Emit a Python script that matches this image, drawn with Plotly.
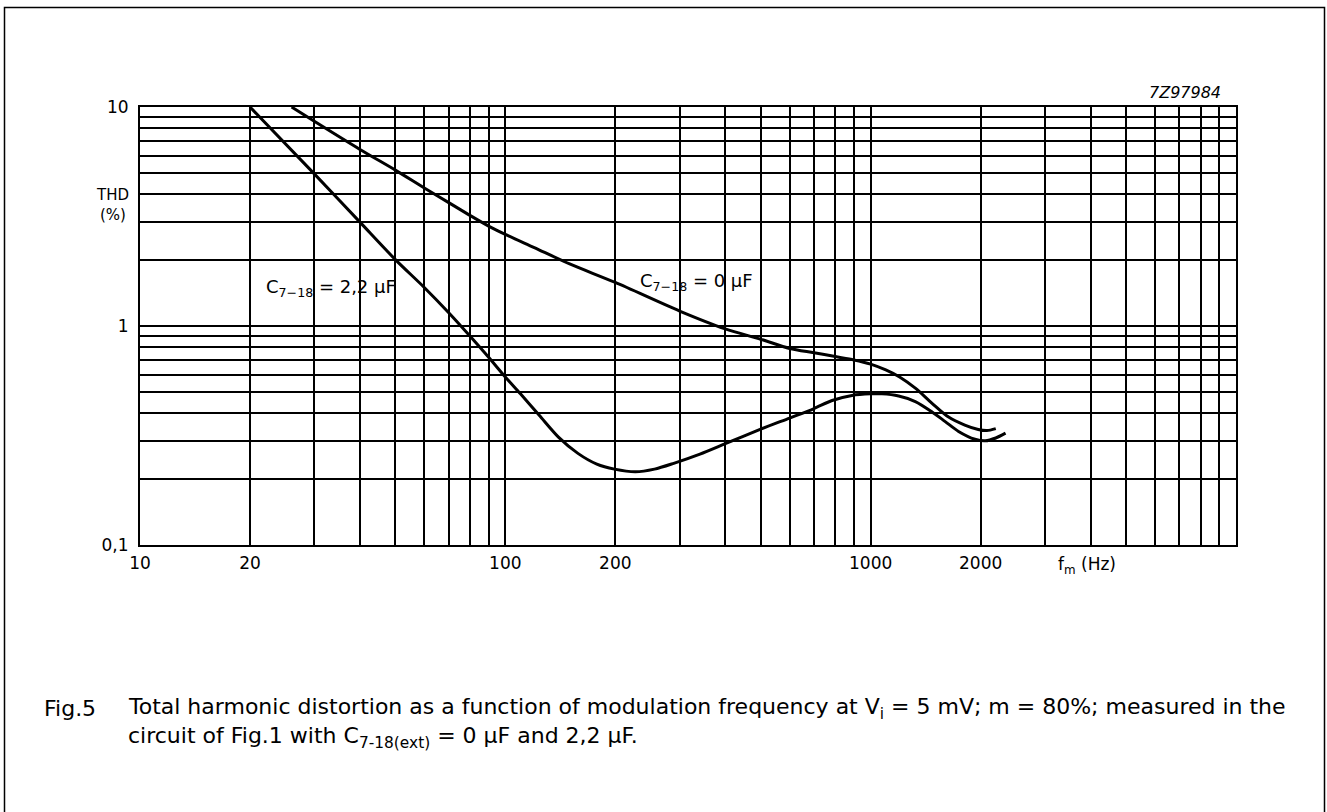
import plotly.graph_objects as go

# ---- data ----
f_0uF = [26, 30, 40, 50, 60, 70, 80, 90, 100, 120, 150, 200, 300, 400, 500, 600, 700, 800,
         900, 1000, 1100, 1200, 1325, 1470, 1630, 1810, 1970, 2080, 2200]
thd_0uF = [10, 8.6, 6.4, 5.15, 4.27, 3.66, 3.2, 2.86, 2.62, 2.28, 1.92, 1.58, 1.17, 0.97,
           0.87, 0.79, 0.755, 0.725, 0.70, 0.67, 0.63, 0.585, 0.52, 0.445, 0.385, 0.353,
           0.337, 0.333, 0.34]

f_22uF = [20, 30, 40, 50, 60, 70, 80, 90, 100, 110, 124, 140, 158, 178, 199, 227, 256, 289,
          341, 400, 500, 600, 700, 784, 889, 1000, 1074, 1193, 1325, 1470, 1600, 1740, 1930,
          2060, 2200, 2340]
thd_22uF = [10, 4.95, 2.98, 2.01, 1.5, 1.15, 0.9, 0.72, 0.585, 0.49, 0.39, 0.31, 0.262, 0.234,
            0.222, 0.216, 0.222, 0.236, 0.26, 0.29, 0.338, 0.38, 0.42, 0.457, 0.482, 0.49,
            0.49, 0.479, 0.452, 0.406, 0.366, 0.33, 0.304, 0.299, 0.308, 0.324]

x_grid = [10, 20, 30, 40, 50, 60, 70, 80, 90, 100, 200, 300, 400, 500, 600, 700, 800, 900,
          1000, 2000, 3000, 4000, 5000, 6000, 7000, 8000, 9000, 10000]
x_tickvals = [10, 20, 100, 200, 1000, 2000]
x_ticktext = ["10", "20", "100", "200", "1000", "2000"]
y_grid = [0.1, 0.2, 0.3, 0.4, 0.5, 0.6, 0.7, 0.8, 0.9, 1, 2, 3, 4, 5, 6, 7, 8, 9, 10]
y_tickvals = [0.1, 1, 10]
y_ticktext = ["0,1", "1", "10"]

W, H = 1327, 812
L, R, T, B = 140, 91, 107, 267
PW, PH = W - L - R, H - T - B


def px(x):
    return (x - L) / PW


def py(y):
    return (H - B - y) / PH


FONT = "DejaVu Sans"
CAP_FONT = "DejaVu Sans"
NB = "\u00a0"

fig = go.Figure()
for f, v in [(f_0uF, thd_0uF), (f_22uF, thd_22uF)]:
    fig.add_trace(go.Scatter(x=f, y=v, mode="lines", line=dict(color="black", width=3,
                                                             shape="spline", smoothing=0.8),
                             showlegend=False, hoverinfo="skip", cliponaxis=True))

grid = dict(showgrid=True, gridcolor="black", gridwidth=2, zeroline=False,
            showline=True, linecolor="black", linewidth=2, mirror=True, ticks="")

fig.update_xaxes(type="log", range=[1, 4], tickmode="array", tickvals=x_tickvals,
                 ticktext=x_ticktext,
                 minor=dict(tickmode="array",
                            tickvals=[v for v in x_grid if v not in x_tickvals],
                            showgrid=True, gridcolor="black", gridwidth=2, ticks=""),
                 tickfont=dict(family=FONT, size=17, color="black"), ticklabelstandoff=2,
                 **grid)
fig.update_yaxes(type="log", range=[-1, 1], tickmode="array", tickvals=y_tickvals,
                 ticktext=y_ticktext,
                 minor=dict(tickmode="array",
                            tickvals=[v for v in y_grid if v not in y_tickvals],
                            showgrid=True, gridcolor="black", gridwidth=2, ticks=""),
                 tickfont=dict(family=FONT, size=17, color="black"), ticklabelstandoff=6,
                 **grid)

ann = [
    dict(x=px(264), y=py(288), text="C<sub>7−18</sub>" + NB + "= 2,2 µF", xanchor="left",
         yanchor="middle", font=dict(family=FONT, size=18, color="black")),
    dict(x=px(638), y=py(282), text="C<sub>7−18</sub>" + NB + "= 0 µF", xanchor="left",
         yanchor="middle", font=dict(family=FONT, size=18, color="black")),
    dict(x=px(112), y=py(205), text="THD<br>(%)", xanchor="center", yanchor="middle",
         font=dict(family=FONT, size=15, color="black"), align="center"),
    dict(x=px(1223), y=py(92), text="<i>7Z97984</i>", xanchor="right", yanchor="middle",
         font=dict(family=FONT, size=16, color="black")),
    dict(x=px(1056), y=py(565), text="f<sub>m</sub>" + NB + "(Hz)", xanchor="left",
         yanchor="middle", font=dict(family=FONT, size=17, color="black")),
    dict(x=px(42), y=py(708), text="Fig.5", xanchor="left", yanchor="middle",
         font=dict(family=CAP_FONT, size=22, color="black")),
    dict(x=px(126), y=py(708),
         text="Total harmonic distortion as a function of modulation frequency at V<sub>i</sub>"
              + NB + "= 5 mV; m = 80%; measured in the",
         xanchor="left", yanchor="middle", font=dict(family=CAP_FONT, size=22, color="black")),
    dict(x=px(126), y=py(737),
         text="circuit of Fig.1 with C<sub>7-18(ext)</sub>" + NB + "= 0 µF and 2,2 µF.",
         xanchor="left", yanchor="middle", font=dict(family=CAP_FONT, size=22, color="black")),
]
for a in ann:
    a.update(xref="paper", yref="paper", showarrow=False)

fig.update_layout(
    width=W, height=H, margin=dict(l=L, r=R, t=T, b=B, pad=0),
    paper_bgcolor="white", plot_bgcolor="white", annotations=ann, hovermode=False,
    shapes=[dict(type="rect", xref="paper", yref="paper", x0=px(4.5), x1=px(1324.5),
                 y0=py(840), y1=py(7.5), line=dict(color="black", width=1.5), layer="above")],
)

fig.write_html("out.html", config={"displayModeBar": False, "staticPlot": True},
               post_script="document.body.style.margin='0';document.body.style.overflow='hidden';")
